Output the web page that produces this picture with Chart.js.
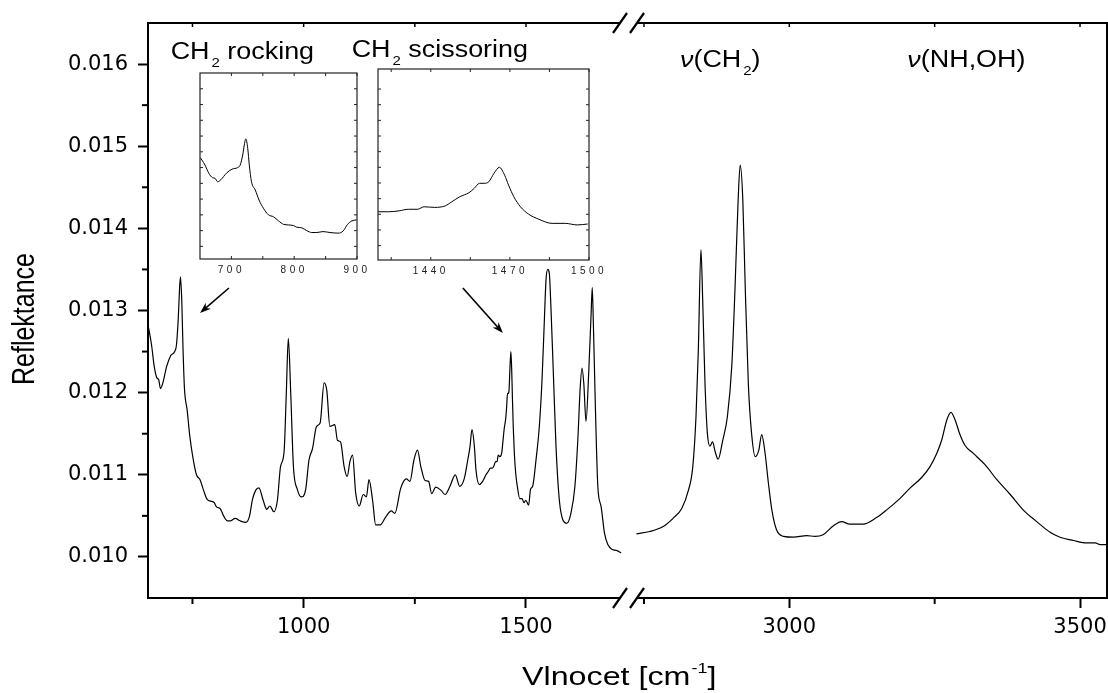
<!DOCTYPE html>
<html><head><meta charset="utf-8">
<script src="https://cdn.jsdelivr.net/npm/chart.js@4.4.1/dist/chart.umd.min.js"></script>
<style>
html,body{margin:0;padding:0;background:#fff;}
#wrap{position:relative;width:1108px;height:693px;overflow:hidden;background:#fff;}
canvas{position:absolute;}
</style></head><body>
<div id="wrap">
<canvas id="main" width="1108" height="693" style="left:0;top:0"></canvas>
<canvas id="ins1" width="190" height="225" style="left:185px;top:63px"></canvas>
<canvas id="ins2" width="240" height="225" style="left:365px;top:60px"></canvas>
</div>
<script>
// ---------- DATA ----------
const lowWavenumber = [650,653,658,664,670,674,678,683,692,701,710,714,718,721,723,726,728.5,732,738,744,751,759,767,775,783,791,799,804,812,820,828,836,846,857,870,878,885,892,899.5,909,917,924,933,941,948,956,961,965.5,971,977,986,995,1004.5,1012,1020,1029,1037,1046,1052,1059,1070,1076,1083,1091,1098,1104,1110,1117,1125,1134,1141,1147,1155,1162,1172,1185,1197,1205,1218.5,1231,1239,1248,1256,1263.5,1273,1281,1288,1297,1309,1318,1329,1341,1351,1361,1369,1374,1378.5,1384,1387.5,1395,1402.5,1410,1415,1420,1424,1428,1431.5,1435,1437.5,1441.5,1445.5,1448,1451,1454.5,1456.5,1458.5,1460.5,1462,1464,1466,1468,1469.5,1471.5,1474,1477,1481,1486,1491,1495.5,1499.5,1506,1510,1515,1522.5,1530,1536,1541,1545,1549,1552.5,1556,1561.5,1567.5,1575,1583,1592,1601,1610,1616.5,1622,1626,1630,1635,1641,1646.5,1649,1651.5,1656,1661.5,1669,1676.5,1684,1694,1703,1714];
const lowReflectance = [0.01282,0.01274,0.01258,0.01232,0.01218,0.01216,0.01205,0.01211,0.01232,0.01245,0.01250,0.01258,0.01290,0.01327,0.01341,0.01311,0.01258,0.01205,0.01179,0.01147,0.01121,0.01100,0.01094,0.01081,0.01070,0.01068,0.01066,0.01061,0.01059,0.01050,0.01044,0.01044,0.01047,0.01044,0.01042,0.01049,0.01070,0.01081,0.01084,0.01069,0.01058,0.01062,0.01055,0.01069,0.01110,0.01128,0.01199,0.01266,0.01199,0.01110,0.01082,0.01073,0.01082,0.01118,0.01132,0.01159,0.01163,0.01212,0.01203,0.01159,0.01161,0.01142,0.01140,0.01110,0.01098,0.01116,0.01124,0.01078,0.01062,0.01076,0.01073,0.01094,0.01069,0.01039,0.01039,0.01049,0.01056,0.01053,0.01084,0.01095,0.01092,0.01118,0.01130,0.01110,0.01093,0.01092,0.01077,0.01085,0.01081,0.01076,0.01086,0.01100,0.01086,0.01095,0.01118,0.01134,0.01155,0.01134,0.01106,0.01088,0.01092,0.01100,0.01104,0.01108,0.01108,0.01111,0.01116,0.01116,0.01124,0.01122,0.01127,0.01140,0.01156,0.01169,0.01183,0.01199,0.01199,0.01204,0.01231,0.01250,0.01225,0.01193,0.01156,0.01124,0.01101,0.01084,0.01071,0.01071,0.01066,0.01069,0.01063,0.01082,0.01086,0.01118,0.01159,0.01215,0.01284,0.01337,0.01350,0.01345,0.01305,0.01224,0.01134,0.01069,0.01045,0.01041,0.01053,0.01086,0.01142,0.01207,0.01230,0.01211,0.01165,0.01224,0.01297,0.01328,0.01284,0.01183,0.01086,0.01061,0.01029,0.01015,0.01009,0.01008,0.01005];
const highWavenumber = [2737,2760,2783,2800,2815,2826,2834,2839.5,2843.5,2848,2851,2855,2859,2863.5,2868,2872.5,2877.5,2885.5,2893.5,2901,2906.5,2912,2915.5,2920,2924,2929.5,2935,2941.5,2947.5,2952.5,2958,2964,2970,2978,2990,3007,3030,3044,3058,3076,3090,3104,3127,3150,3167,3190,3208,3228,3242,3253.5,3262,3271,3278,3285,3293.5,3302,3316.5,3337,3357,3380,3402.5,3425.5,3448.5,3465.5,3488.5,3511.5,3526,3534.5,3546];
const highReflectance = [0.01028,0.01031,0.01037,0.01047,0.01059,0.01080,0.01110,0.01171,0.01252,0.01374,0.01313,0.01211,0.01151,0.01135,0.01140,0.01128,0.01119,0.01142,0.01171,0.01232,0.01325,0.01435,0.01477,0.01435,0.01333,0.01211,0.01151,0.01122,0.01130,0.01149,0.01128,0.01090,0.01057,0.01033,0.01025,0.01024,0.01026,0.01025,0.01027,0.01038,0.01043,0.01040,0.01040,0.01048,0.01057,0.01071,0.01084,0.01097,0.01110,0.01126,0.01142,0.01167,0.01176,0.01167,0.01149,0.01136,0.01126,0.01112,0.01094,0.01076,0.01057,0.01043,0.01030,0.01024,0.01020,0.01017,0.01017,0.01015,0.01015];

const yTickValues = [0.010,0.011,0.012,0.013,0.014,0.015,0.016];
const yMinorTicks = [0.0105,0.0115,0.0125,0.0135,0.0145,0.0155];
const xLowTickLabels = [1000,1500];
const xLowMinorTicks = [750,1250];
const xHighTickLabels = [3000,3500];
const xHighMinorTicks = [2750,3250];
const inset1TickLabels = [700,800,900];
const inset1MinorTicks = [750,850];
const inset2TickLabels = [1440,1470,1500];
const inset2MinorTicks = [1425,1455,1485];
const insetYTicks = [0.010,0.0105,0.011,0.0115,0.012,0.0125,0.013,0.0135,0.014,0.0145,0.015];

const bandLabels = [
  {axis:'xL', wn:701,  val:0.016058, parts:[['CH','n'],['2','sub'],[' rocking','n']]},
  {axis:'xL', wn:1108, val:0.01609,  parts:[['CH','n'],['2','sub'],[' scissoring','n']]},
  {axis:'xR', wn:2812, val:0.015968, parts:[['ν','i'],['(CH','n'],['2','sub'],[')','n']]},
  {axis:'xR', wn:3203, val:0.015968, parts:[['ν','i'],['(NH,OH)','n']]}
];
const arrowsSpec = [
  {axis:'xL', from:[832,0.013274], to:[767,0.01297]},
  {axis:'xL', from:[1358,0.013274], to:[1448,0.012726]}
];

// ---------- HELPERS ----------
const FONT = '"Liberation Sans", Arial, sans-serif';
const TICKFONT = "'DejaVu Sans', sans-serif";
function pairs(xs, ys, lo, hi){
  const out=[];
  xs.forEach((x,i)=>{ if(lo===undefined || (x>=lo && x<=hi)) out.push({x:x, y:ys[i]}); });
  return out;
}
function seg(ctx,x1,y1,x2,y2){ ctx.beginPath(); ctx.moveTo(x1,y1); ctx.lineTo(x2,y2); ctx.stroke(); }
function sText(ctx,str,x,y,font,sx){
  ctx.save(); ctx.font=font; ctx.translate(x,y); ctx.scale(sx,1); ctx.fillText(str,0,0);
  const w=ctx.measureText(str).width*sx; ctx.restore(); return w;
}
function arrow(ctx,x1,y1,x2,y2){
  const a=Math.atan2(y2-y1,x2-x1), L=11, W=4;
  ctx.lineWidth=1.6;
  seg(ctx,x1,y1,x2-L*0.6*Math.cos(a),y2-L*0.6*Math.sin(a));
  ctx.beginPath();
  ctx.moveTo(x2,y2);
  ctx.lineTo(x2-L*Math.cos(a)+W*Math.sin(a), y2-L*Math.sin(a)-W*Math.cos(a));
  ctx.lineTo(x2-L*0.7*Math.cos(a), y2-L*0.7*Math.sin(a));
  ctx.lineTo(x2-L*Math.cos(a)-W*Math.sin(a), y2-L*Math.sin(a)+W*Math.cos(a));
  ctx.closePath(); ctx.fill();
}
function noPad(s){ s.paddingLeft=0; s.paddingRight=0; s.paddingTop=0; s.paddingBottom=0; }

// ---------- MAIN CHART ----------
const mainDecor = {
  id:'mainDecor',
  afterDraw(chart){
    const ctx=chart.ctx, ca=chart.chartArea, xL=chart.scales.xL, xR=chart.scales.xR, y=chart.scales.y;
    ctx.save();
    ctx.strokeStyle='#000'; ctx.fillStyle='#000'; ctx.lineCap='butt';
    ctx.lineWidth=2;
    seg(ctx,ca.left-1,ca.top,ca.right+1,ca.top);
    seg(ctx,ca.right,ca.top-1,ca.right,ca.bottom+1);
    // minor ticks
    yMinorTicks.forEach(v=>{const p=y.getPixelForValue(v); seg(ctx,ca.left-6,p,ca.left,p);});
    xLowMinorTicks.forEach(v=>{const p=xL.getPixelForValue(v); seg(ctx,p,ca.bottom,p,ca.bottom+6);});
    xHighMinorTicks.forEach(v=>{const p=xR.getPixelForValue(v); seg(ctx,p,ca.bottom,p,ca.bottom+6);});
    // top inner ticks
    ctx.lineWidth=1.5;
    xLowTickLabels.concat(xLowMinorTicks).forEach(v=>{const p=xL.getPixelForValue(v); seg(ctx,p,ca.top,p,ca.top+4);});
    xHighTickLabels.concat(xHighMinorTicks).forEach(v=>{const p=xR.getPixelForValue(v); seg(ctx,p,ca.top,p,ca.top+4);});
    // axis break
    const bx=xL.right;
    ctx.fillStyle='#fff';
    ctx.fillRect(bx-8.5,ca.top-2,17,4);
    ctx.fillRect(bx-8.5,ca.bottom-2,17,4);
    ctx.fillStyle='#000'; ctx.lineWidth=2.2;
    [ca.top,ca.bottom].forEach(yy=>{[bx-8.5,bx+8.5].forEach(cx=>seg(ctx,cx-7,yy+10,cx+7,yy-10));});
    // arrows
    arrowsSpec.forEach(a=>{
      const sx=chart.scales[a.axis];
      arrow(ctx,sx.getPixelForValue(a.from[0]),y.getPixelForValue(a.from[1]),sx.getPixelForValue(a.to[0]),y.getPixelForValue(a.to[1]));
    });
    // band labels
    ctx.textAlign='left'; ctx.textBaseline='alphabetic';
    bandLabels.forEach(b=>{
      let x=chart.scales[b.axis].getPixelForValue(b.wn);
      const yy=y.getPixelForValue(b.val);
      b.parts.forEach(([t,s])=>{
        if(s==='sub') x+=2+sText(ctx,t,x+2,yy+8,'13px '+FONT,1.15);
        else if(s==='i') x+=sText(ctx,t,x,yy,'italic 23px '+FONT,1.17);
        else x+=sText(ctx,t,x,yy,'23px '+FONT,1.17);
      });
    });
    // axis titles
    ctx.save();
    ctx.translate(25,319); ctx.rotate(-Math.PI/2); ctx.scale(1,1.25);
    ctx.font='25px '+FONT; ctx.textAlign='center'; ctx.textBaseline='middle';
    ctx.fillText('Reflektance',0,0);
    ctx.restore();
    let tx=522;
    tx+=sText(ctx,'Vlnocet [cm',tx,685,'26px '+FONT,1.24);
    tx+=sText(ctx,'-1',tx+1,673,'15px '+FONT,1.2)+1;
    sText(ctx,']',tx,685,'26px '+FONT,1.24);
    ctx.restore();
  }
};

const axisCommon = {
  grid:{drawOnChartArea:false, drawTicks:true, tickLength:10, tickWidth:2, tickColor:'#000', color:'#000'},
  border:{display:true, width:2, color:'#000'}
};

new Chart(document.getElementById('main'), {
  type:'line',
  data:{datasets:[
    {label:'low', data:pairs(lowWavenumber,lowReflectance), xAxisID:'xL', yAxisID:'y',
     borderColor:'#000', borderWidth:1.2, pointRadius:0, cubicInterpolationMode:'monotone', fill:false},
    {label:'high', data:pairs(highWavenumber,highReflectance), xAxisID:'xR', yAxisID:'y',
     borderColor:'#000', borderWidth:1.2, pointRadius:0, cubicInterpolationMode:'monotone', fill:false}
  ]},
  options:{
    responsive:false, animation:false, events:[],
    layout:{padding:{top:23,right:1,left:0,bottom:0}},
    plugins:{legend:{display:false}, tooltip:{enabled:false}},
    scales:{
      xL:Object.assign({type:'linear', position:'bottom', stack:'xs', stackWeight:480.5, min:650, max:1730.5,
        afterBuildTicks:s=>{s.ticks=xLowTickLabels.map(v=>({value:v}));},
        afterFit:s=>{s.height=95; noPad(s);},
        ticks:{font:{family:TICKFONT,size:21}, color:'#000', padding:7, maxRotation:0, autoSkip:false, callback:v=>String(v)}}, axisCommon),
      xR:Object.assign({type:'linear', position:'bottom', stack:'xs', stackWeight:478.5, min:2723.4, max:3546.4,
        afterBuildTicks:s=>{s.ticks=xHighTickLabels.map(v=>({value:v}));},
        afterFit:s=>{s.height=95; noPad(s);},
        ticks:{font:{family:TICKFONT,size:21}, color:'#000', padding:7, maxRotation:0, autoSkip:false, callback:v=>String(v)}}, axisCommon),
      y:Object.assign({type:'linear', position:'left', min:0.0095, max:0.0165,
        afterBuildTicks:s=>{s.ticks=yTickValues.map(v=>({value:v}));},
        afterFit:s=>{s.width=148; noPad(s);},
        ticks:{font:{family:TICKFONT,size:21}, color:'#000', padding:10, autoSkip:false, callback:v=>Number(v).toFixed(3)}}, axisCommon)
    }
  },
  plugins:[mainDecor]
});

// ---------- INSETS ----------
function makeInset(id, lo, hi, yMin, yMax, labels, minor, pad, axisH){
  const deco = {
    id:'insetDeco'+id,
    beforeDraw(chart){ chart.ctx.letterSpacing='3.5px'; },
    afterDraw(chart){
      const ctx=chart.ctx, ca=chart.chartArea, x=chart.scales.x, y=chart.scales.y;
      ctx.save();
      ctx.letterSpacing='0px';
      ctx.strokeStyle='#222'; ctx.lineWidth=1.2;
      ctx.strokeRect(ca.left,ca.top,ca.right-ca.left,ca.bottom-ca.top);
      ctx.lineWidth=1;
      labels.concat(minor).forEach(v=>{const p=x.getPixelForValue(v); seg(ctx,p,ca.bottom,p,ca.bottom-3); seg(ctx,p,ca.top,p,ca.top+3);});
      insetYTicks.forEach(v=>{const p=y.getPixelForValue(v); seg(ctx,ca.left,p,ca.left+3,p); seg(ctx,ca.right,p,ca.right-3,p);});
      ctx.restore();
    }
  };
  new Chart(document.getElementById(id), {
    type:'line',
    data:{datasets:[{data:pairs(lowWavenumber,lowReflectance,lo,hi), borderColor:'#000', borderWidth:1,
      pointRadius:0, cubicInterpolationMode:'monotone', fill:false}]},
    options:{
      responsive:false, animation:false, events:[],
      layout:{padding:pad},
      plugins:{legend:{display:false}, tooltip:{enabled:false}},
      scales:{
        x:{type:'linear', min:lo, max:hi,
          afterBuildTicks:s=>{s.ticks=labels.map(v=>({value:v}));},
          afterFit:s=>{s.height=axisH; noPad(s);},
          grid:{display:false, drawTicks:false}, border:{display:false},
          ticks:{font:{family:FONT,size:10}, color:'#222', padding:5, maxRotation:0, autoSkip:false, callback:v=>String(v)}},
        y:{type:'linear', display:false, min:yMin, max:yMax}
      }
    },
    plugins:[deco]
  });
}
makeInset('ins1', 650, 900, 0.0096, 0.0155, inset1TickLabels, inset1MinorTicks, {left:15,top:10,right:18,bottom:0}, 29);
makeInset('ins2', 1420, 1500, 0.00954, 0.01564, inset2TickLabels, inset2MinorTicks, {left:13,top:9,right:16,bottom:0}, 25);
</script>
</body></html>
